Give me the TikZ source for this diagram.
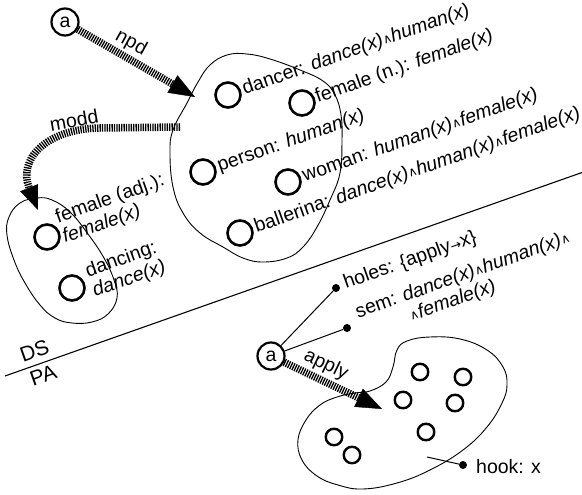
\documentclass[tikz,border=0pt]{standalone}
\usepackage{fontspec}
\setmainfont{Liberation Sans}
\newfontfamily\dejavu{DejaVu Sans}
\usetikzlibrary{arrows.meta}
\newcommand\andop{\raisebox{1pt}{\fontsize{12.5}{12.5}\selectfont\dejavu ∧}}
\newcommand\toop{{\fontsize{13}{13}\selectfont\dejavu →}}
\begin{document}
\begin{tikzpicture}[x=1pt,y=-1pt,
  txt/.style={font=\fontsize{19.5}{21}\selectfont, inner sep=0pt, anchor=base west, rotate=19.5},
  lbl/.style={font=\fontsize{19.5}{21}\selectfont, inner sep=0pt},
  bigc/.style={circle, draw, line width=2.6pt, minimum size=25pt, inner sep=0pt},
  smallc/.style={circle, draw, line width=2.4pt, minimum size=16.5pt, inner sep=0pt},
  anode/.style={circle, draw, line width=2.2pt, minimum size=27pt, inner sep=0pt, font=\fontsize{19.5}{21}\selectfont},
  hatch/.style={line width=7.5pt, dash pattern=on 1.3pt off 1.1pt, -{Triangle[length=26pt,width=20pt,line width=0.4pt]}},
  blob/.style={line width=0.9pt},
  thin/.style={line width=1pt},
  dot/.style={circle, fill, inner sep=0pt, minimum size=8pt},
]
\useasboundingbox (0,0) rectangle (582,495);

% top a and npd arrow
\node[anode] (a1) at (65,22) {a};
\coordinate (npdtip) at (195,97);

% upper blob
\draw[blob] plot[smooth cycle, tension=0.7] coordinates {
 (210,65) (227,55) (247,54) (270,59) (300,70) (323,81) (335,95) (341,115)
 (342,140) (340,173) (330,200) (317,227) (303,247) (287,258) (263,262)
 (243,258) (223,247) (200,233) (183,213) (173,187) (170,153) (173,130)
 (187,103) (198,82)};
\node[bigc] (d1) at (228,95) {};
\node[bigc] (d2) at (302,103) {};
\node[bigc] (d3) at (203,172) {};
\node[bigc] (d4) at (288,182) {};
\node[bigc] (d5) at (240,233) {};
\node[txt] (t1) at ([xshift=3pt]d1.east) {dancer: \textit{dance(x)}\andop\textit{human(x)}};
\node[txt] (t2) at ([xshift=2pt]d2.east) {female (n.): \textit{female(x)}};
\node[txt] (t3) at ([xshift=3pt]d3.east) {person: \textit{human(x)}};
\node[txt] (t4) at ([xshift=3pt]d4.east) {woman: \textit{human(x)}\andop\textit{female(x)}};
\node[txt] (t5) at ([xshift=3pt]d5.east) {ballerina: \textit{dance(x)}\andop\textit{human(x)}\andop\textit{female(x)}};

\draw[hatch] (a1) -- (npdtip);
\node[lbl, rotate=-29] (npd) at (131,43) {npd};

% left blob
\draw[blob] plot[smooth cycle, tension=0.7] coordinates {
 (37,198) (20,203) (9,217) (7,235) (14,260) (25,283) (40,305) (55,318)
 (72,323) (92,322) (108,314) (117,298) (114,280) (104,258) (88,234)
 (70,212) (52,200)};
\node[bigc] (f1) at (47,237) {};
\node[bigc] (f2) at (72,288) {};
% base anchor of a two-line node is the baseline of its last line
\node[txt, align=left] (tf1) at (65,243) {female (adj.):\\\textit{female(x)}};
\node[txt, align=left] (tf2) at (95,297) {dancing:\\\textit{dance(x)}};

% modd arrow
\coordinate (moddstart) at (180,127);
\coordinate (moddtip) at (38,210);
\draw[hatch, -{Triangle[length=24pt,width=19pt,line width=0.4pt]}] (moddstart) -- (100,128) .. controls (45,129) and (18,160) .. (moddtip);
\node[lbl, rotate=10] (modd) at (74,120) {modd};

% divider
\coordinate (divl) at (5,376);
\coordinate (divr) at (582,172.5);
\draw[line width=1.1pt] (divl) -- (divr);
\node[txt, font=\fontsize{21}{21}\selectfont] (ds) at (23,363) {DS};
\node[txt, font=\fontsize{21}{21}\selectfont] (pa) at (33,387) {PA};

% bottom a
\node[anode] (a2) at (271,356) {a};
\node[dot] (holesdot) at (336,288) {};
\node[dot] (semdot) at (347,328) {};
\draw[thin] (a2) -- (holesdot);
\draw[thin] (a2) -- (semdot);
\node[txt] (holes) at (346,289) {holes: \{apply\toop x\}};
\node[txt, align=left] (sem) at (365,338) {sem: \textit{dance(x)}\andop\textit{human(x)}\andop\\\hphantom{sem: }\andop\textit{female(x)}};

% lower blob
\draw[blob] plot[smooth cycle, tension=0.7] coordinates {
 (370,391) (386,382) (393,367) (397,350) (407,341) (430,337) (460,339)
 (487,350) (503,367) (507,385) (502,403) (487,427) (463,450) (430,470)
 (397,483) (363,489) (338,485) (317,476) (302,460) (298,440) (306,420)
 (320,405) (337,397) (355,393)};
\node[smallc] (s1) at (420,372) {};
\node[smallc] (s2) at (463,377) {};
\node[smallc] (s3) at (403,400) {};
\node[smallc] (s4) at (455,403) {};
\node[smallc] (s5) at (426,432) {};
\node[smallc] (s6) at (334,437) {};
\node[smallc] (s7) at (352,455) {};

\coordinate (applytip) at (382,409);
\draw[hatch] (a2) -- (applytip);
\node[lbl, rotate=-26] (apply) at (326,365) {apply};

% hook
\coordinate (hookin) at (427,457);
\node[dot] (hookdot) at (463,465) {};
\draw[thin] (hookin) -- (hookdot);
\node[lbl, anchor=base west] (hook) at (476,473) {hook: x};
\end{tikzpicture}
\end{document}
